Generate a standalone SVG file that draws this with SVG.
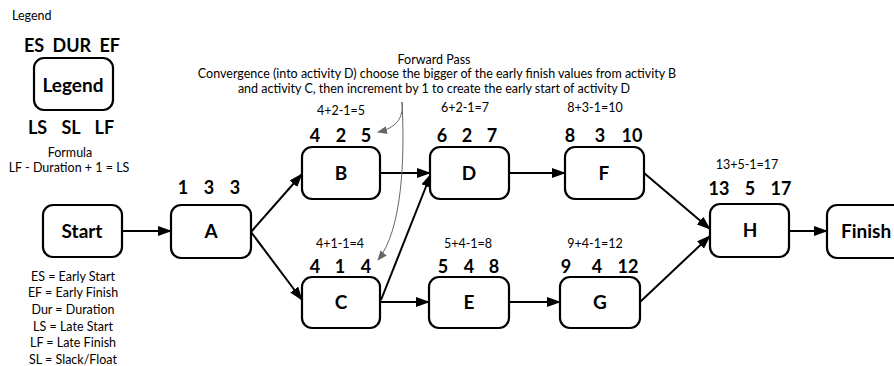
<svg xmlns="http://www.w3.org/2000/svg" width="894" height="366" viewBox="0 0 894 366">
<defs>
<marker id="ah" markerWidth="14" markerHeight="10" refX="13" refY="5" orient="auto" markerUnits="userSpaceOnUse">
<path d="M0,0 L14,5 L0,10 Z" fill="#000"/>
</marker>
<marker id="gh" markerWidth="10" markerHeight="8" refX="9" refY="4" orient="auto" markerUnits="userSpaceOnUse">
<path d="M0,0 L10,4 L0,8 Z" fill="#666"/>
</marker>
<style>
.box{fill:#fff;stroke:#000;stroke-width:2.2}
.t{font-family:Lato,"Open Sans",sans-serif;fill:#000}
.s{font-size:12.5px}
.b{font-size:18px;font-weight:bold}
.nl{font-size:19px;font-weight:bold}
.c{stroke:#000;stroke-width:2;fill:none;marker-end:url(#ah)}
.g{stroke:#666;stroke-width:1;fill:none;marker-end:url(#gh)}
</style>
</defs>
<rect width="894" height="366" fill="#fff"/>

<g id="legend-block">
<text class="t s" x="12" y="20">Legend</text>
<text class="t b" x="72" y="52" text-anchor="middle" word-spacing="4">ES DUR EF</text>
<rect class="box" x="34" y="58" width="79" height="52" rx="10"/>
<text class="t nl" x="73" y="92" text-anchor="middle">Legend</text>
<text class="t b" x="71" y="134" text-anchor="middle" word-spacing="10">LS SL LF</text>
<text class="t s" x="70" y="157" text-anchor="middle">Formula</text>
<text class="t s" x="69" y="172" text-anchor="middle">LF - Duration + 1 = LS</text>
</g>

<g id="definitions">
<text class="t s" x="73" y="281" text-anchor="middle">ES = Early Start</text>
<text class="t s" x="73" y="297" text-anchor="middle">EF = Early Finish</text>
<text class="t s" x="73" y="314" text-anchor="middle">Dur = Duration</text>
<text class="t s" x="73" y="331" text-anchor="middle">LS = Late Start</text>
<text class="t s" x="73" y="347" text-anchor="middle">LF = Late Finish</text>
<text class="t s" x="73" y="364" text-anchor="middle">SL = Slack/Float</text>
</g>

<g id="header">
<text class="t s" x="434" y="64" text-anchor="middle">Forward Pass</text>
<text class="t s" x="437" y="78" text-anchor="middle">Convergence (into activity D) choose the bigger of the early finish values from activity B</text>
<text class="t s" x="434" y="93" text-anchor="middle">and activity C, then increment by 1 to create the early start of activity D</text>
</g>

<g id="connectors">
<line class="c" x1="122" y1="231" x2="171" y2="231"/>
<line class="c" x1="251" y1="232" x2="302" y2="174"/>
<line class="c" x1="251" y1="232" x2="302" y2="300"/>
<line class="c" x1="380" y1="173" x2="430" y2="173"/>
<line class="c" x1="381" y1="300" x2="431" y2="174"/>
<line class="c" x1="380" y1="302" x2="429" y2="302"/>
<line class="c" x1="509" y1="173" x2="565" y2="173"/>
<line class="c" x1="509" y1="302" x2="560" y2="302"/>
<line class="c" x1="644" y1="173" x2="710" y2="229"/>
<line class="c" x1="640" y1="302" x2="710" y2="236"/>
<line class="c" x1="789" y1="231" x2="827" y2="231"/>
<path class="g" d="M402,102 C404,118 396,128 378,132"/>
<path class="g" d="M402,102 C405,160 402,230 378,260"/>
</g>

<g id="node-start">
<rect class="box" x="43" y="205" width="79" height="52" rx="10"/>
<text class="t nl" x="82" y="238" text-anchor="middle">Start</text>
</g>

<g id="node-A">
<text class="t b" x="183" y="194" text-anchor="middle">1</text>
<text class="t b" x="209" y="194" text-anchor="middle">3</text>
<text class="t b" x="235" y="194" text-anchor="middle">3</text>
<rect class="box" x="171" y="205" width="80" height="53" rx="10"/>
<text class="t nl" x="211" y="238" text-anchor="middle">A</text>
</g>

<g id="node-B">
<text class="t s" x="341" y="115" text-anchor="middle">4+2-1=5</text>
<text class="t b" x="315" y="142" text-anchor="middle">4</text>
<text class="t b" x="341" y="142" text-anchor="middle">2</text>
<text class="t b" x="366" y="142" text-anchor="middle">5</text>
<rect class="box" x="302" y="147" width="78" height="52" rx="10"/>
<text class="t nl" x="341" y="180" text-anchor="middle">B</text>
</g>

<g id="node-C">
<text class="t s" x="340" y="248" text-anchor="middle">4+1-1=4</text>
<text class="t b" x="315" y="273" text-anchor="middle">4</text>
<text class="t b" x="340" y="273" text-anchor="middle">1</text>
<text class="t b" x="366" y="273" text-anchor="middle">4</text>
<rect class="box" x="302" y="277" width="78" height="51" rx="10"/>
<text class="t nl" x="341" y="309" text-anchor="middle">C</text>
</g>

<g id="node-D">
<text class="t s" x="465" y="112" text-anchor="middle">6+2-1=7</text>
<text class="t b" x="442" y="142" text-anchor="middle">6</text>
<text class="t b" x="467" y="142" text-anchor="middle">2</text>
<text class="t b" x="492" y="142" text-anchor="middle">7</text>
<rect class="box" x="430" y="147" width="79" height="52" rx="10"/>
<text class="t nl" x="469" y="180" text-anchor="middle">D</text>
</g>

<g id="node-E">
<text class="t s" x="468" y="248" text-anchor="middle">5+4-1=8</text>
<text class="t b" x="443" y="273" text-anchor="middle">5</text>
<text class="t b" x="469" y="273" text-anchor="middle">4</text>
<text class="t b" x="494" y="273" text-anchor="middle">8</text>
<rect class="box" x="429" y="277" width="80" height="51" rx="10"/>
<text class="t nl" x="469" y="309" text-anchor="middle">E</text>
</g>

<g id="node-F">
<text class="t s" x="595" y="112" text-anchor="middle">8+3-1=10</text>
<text class="t b" x="570" y="142" text-anchor="middle">8</text>
<text class="t b" x="600" y="142" text-anchor="middle">3</text>
<text class="t b" x="632" y="142" text-anchor="middle">10</text>
<rect class="box" x="565" y="147" width="79" height="52" rx="10"/>
<text class="t nl" x="604" y="180" text-anchor="middle">F</text>
</g>

<g id="node-G">
<text class="t s" x="595" y="248" text-anchor="middle">9+4-1=12</text>
<text class="t b" x="566" y="273" text-anchor="middle">9</text>
<text class="t b" x="597" y="273" text-anchor="middle">4</text>
<text class="t b" x="628" y="273" text-anchor="middle">12</text>
<rect class="box" x="560" y="277" width="80" height="51" rx="10"/>
<text class="t nl" x="600" y="309" text-anchor="middle">G</text>
</g>

<g id="node-H">
<text class="t s" x="747" y="169" text-anchor="middle">13+5-1=17</text>
<text class="t b" x="719" y="195" text-anchor="middle">13</text>
<text class="t b" x="750" y="195" text-anchor="middle">5</text>
<text class="t b" x="781" y="195" text-anchor="middle">17</text>
<rect class="box" x="710" y="204" width="79" height="53" rx="10"/>
<text class="t nl" x="750" y="237" text-anchor="middle">H</text>
</g>

<g id="node-finish">
<rect class="box" x="827" y="205" width="80" height="53" rx="10"/>
<text class="t nl" x="841" y="238">Finish</text>
</g>
</svg>
